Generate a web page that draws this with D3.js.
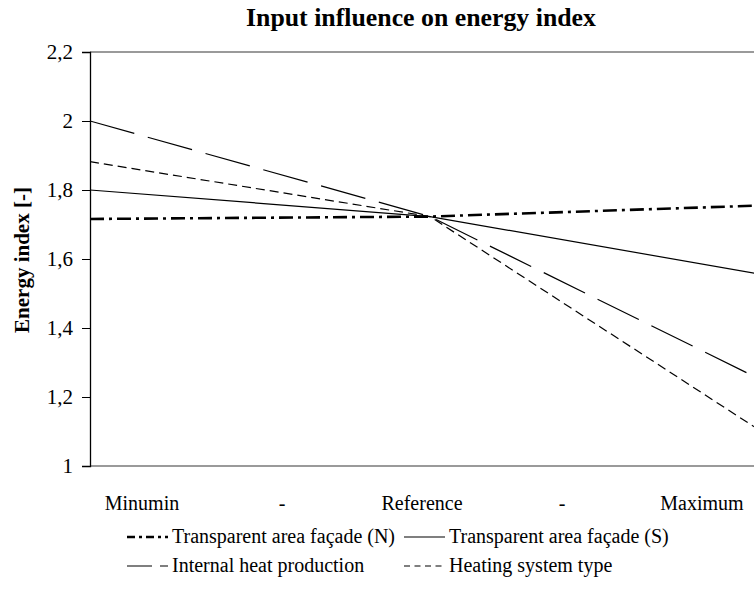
<!DOCTYPE html>
<html>
<head>
<meta charset="utf-8">
<script src="https://cdn.jsdelivr.net/npm/d3@7"></script>
<style>
  html, body { margin: 0; padding: 0; background: #fff; }
  svg { display: block; }
  text { font-family: "Liberation Serif", "Times New Roman", serif; fill: #000; }
</style>
</head>
<body>
<svg id="chart" width="754" height="615"></svg>
<script>
// ---- data ----
const categories = ["Minumin", "-", "Reference", "-", "Maximum"];
const seriesNames = [
  "Transparent area façade (N)",
  "Transparent area façade (S)",
  "Internal heat production",
  "Heating system type"
];
// values at Minumin, Reference, Maximum
const pointCategories = ["Minumin", "Reference", "Maximum"];
const valuesN = [1.716, 1.723, 1.756];
const valuesS = [1.800, 1.723, 1.551];
const valuesInternal = [2.000, 1.723, 1.237];
const valuesHeating = [1.882, 1.723, 1.084];
const yTicks = [1, 1.2, 1.4, 1.6, 1.8, 2, 2.2];
const titleText = "Input influence on energy index";
const yTitle = "Energy index [-]";

// ---- layout ----
const svg = d3.select("#chart");
const pLeft = 90, pTop = 52, pBottom = 466, pRight = 754;

const xPos = d3.scalePoint().domain(d3.range(categories.length)).range([pLeft, 770]);
const xLabel = d3.scaleBand().domain(d3.range(categories.length)).range([72, 772]);
const y = d3.scaleLinear().domain([1, 2.2]).range([pBottom, pTop]);

const fmt = d => String(d).replace(".", ",");

// title
svg.append("text")
  .attr("x", 421).attr("y", 26)
  .attr("text-anchor", "middle")
  .attr("font-weight", "bold")
  .attr("font-size", 25)
  .attr("textLength", 350)
  .attr("lengthAdjust", "spacingAndGlyphs")
  .text(titleText);

// plot border (gray)
svg.append("line").attr("x1", pLeft).attr("x2", pRight).attr("y1", pTop).attr("y2", pTop)
  .attr("stroke", "#9a9a9a").attr("stroke-width", 2);
svg.append("line").attr("x1", pLeft).attr("x2", pRight).attr("y1", pBottom).attr("y2", pBottom)
  .attr("stroke", "#9a9a9a").attr("stroke-width", 2);

// series
svg.append("clipPath").attr("id", "plotclip")
  .append("rect").attr("x", pLeft).attr("y", pTop - 2).attr("width", pRight - pLeft).attr("height", pBottom - pTop + 4);

const idxOf = c => categories.indexOf(c);
const line = d3.line()
  .x(d => xPos(d.i))
  .y(d => y(d.v));

const series = [
  { vals: valuesN, dash: "14,5,3,5", width: 2.6 },
  { vals: valuesS, dash: null, width: 1.2 },
  { vals: valuesInternal, dash: "46,14", width: 1.2 },
  { vals: valuesHeating, dash: "9,5", width: 1.2 }
];
const g = svg.append("g").attr("clip-path", "url(#plotclip)");
series.forEach(s => {
  const pts = pointCategories.map((c, k) => ({ i: idxOf(c), v: s.vals[k] }));
  g.append("path")
    .attr("d", line(pts))
    .attr("fill", "none")
    .attr("stroke", "#000")
    .attr("stroke-width", s.width)
    .attr("stroke-dasharray", s.dash);
});

// y axis
const yAxis = d3.axisLeft(y).tickValues(yTicks).tickFormat(fmt).tickSize(8).tickPadding(9);
const ya = svg.append("g").attr("transform", `translate(${pLeft},0)`).call(yAxis);
ya.select(".domain").attr("stroke", "#000").attr("stroke-width", 1.3);
ya.selectAll(".tick line").attr("stroke", "#000");
ya.selectAll(".tick text").attr("font-size", 21).attr("font-family", "Liberation Serif, serif").attr("fill", "#000");

// y title
svg.append("text")
  .attr("transform", `translate(29,${(pTop + pBottom) / 2 + 1}) rotate(-90)`)
  .attr("text-anchor", "middle")
  .attr("font-weight", "bold")
  .attr("font-size", 21)
  .text(yTitle);

// x labels
svg.append("g").selectAll("text").data(categories).join("text")
  .attr("x", (d, i) => xLabel(i) + xLabel.bandwidth() / 2)
  .attr("y", 510)
  .attr("text-anchor", "middle")
  .attr("font-size", 20)
  .text(d => d);

// legend
const legendItems = [
  { name: seriesNames[0], dash: "8,4,3,4", width: 2.4, x: 127, y: 537 },
  { name: seriesNames[1], dash: null, width: 1.2, x: 404, y: 537 },
  { name: seriesNames[2], dash: "25,8", width: 1.2, x: 127, y: 566 },
  { name: seriesNames[3], dash: "6,4.5", width: 1.2, x: 404, y: 566 }
];
const lg = svg.append("g");
legendItems.forEach(it => {
  lg.append("line")
    .attr("x1", it.x).attr("x2", it.x + 41)
    .attr("y1", it.y).attr("y2", it.y)
    .attr("stroke", "#000").attr("stroke-width", it.width)
    .attr("stroke-dasharray", it.dash);
  lg.append("text")
    .attr("x", it.x + 45).attr("y", it.y + 6)
    .attr("font-size", 20)
    .text(it.name);
});
</script>
</body>
</html>
